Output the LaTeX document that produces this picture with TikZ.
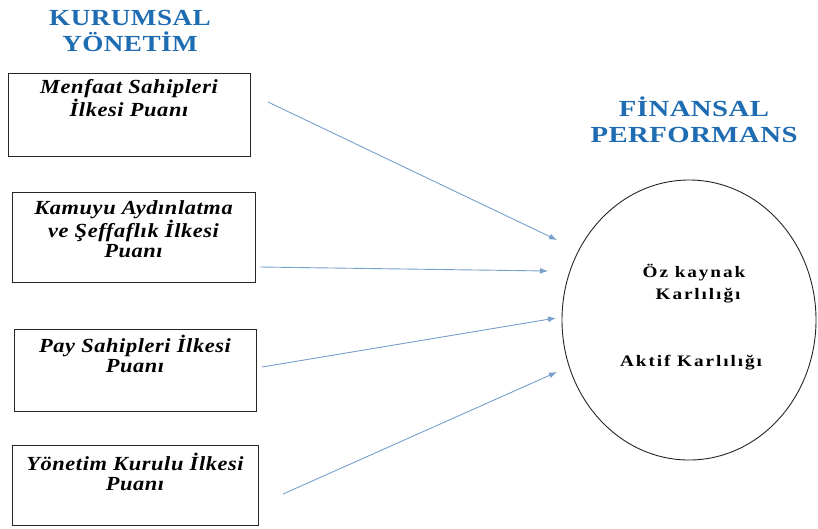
\documentclass[tikz,border=0pt]{standalone}
\usepackage{fontspec}
\setmainfont{Liberation Serif}
\usetikzlibrary{arrows.meta,shapes.geometric}
\definecolor{hdrblue}{RGB}{30,108,178}
\definecolor{arrblue}{RGB}{120,160,205}
\begin{document}
\begin{tikzpicture}[x=1pt,y=-1pt,
  hdr/.style={font=\fontsize{23}{26}\selectfont\bfseries\addfontfeature{FakeStretch=1.18,LetterSpace=2}, text=hdrblue, align=center, inner sep=0pt},
  boxframe/.style={draw=black!85, line width=0.9pt, rectangle, inner sep=0pt},
  boxtext/.style={font=\fontsize{20}{20}\selectfont\bfseries\itshape\addfontfeature{FakeStretch=1.12,LetterSpace=3}, align=center, inner sep=0pt},
  circtext/.style={font=\fontsize{16}{22}\selectfont\bfseries\addfontfeature{FakeStretch=1.2,LetterSpace=12}, align=center, inner sep=0pt},
  arr/.style={draw=arrblue, line width=0.9pt, -{Latex[length=8pt,width=6pt]}}]
\useasboundingbox (0,0) rectangle (818,528);
\fill[white] (0,0) rectangle (818,528);

% headers
\node[hdr] (h1) at (130,31) {KURUMSAL\\YÖNETİM};
\node[hdr, font=\fontsize{23}{26}\selectfont\bfseries\addfontfeature{FakeStretch=1.25,LetterSpace=2}] (h2) at (694,120) {FİNANSAL\\PERFORMANS};

% boxes
\node[boxframe, minimum width=242pt, minimum height=83pt] (b1) at (129,114.5) {};
\node[boxframe, minimum width=243pt, minimum height=90pt] (b2) at (133.5,237) {};
\node[boxframe, minimum width=242pt, minimum height=82pt] (b3) at (135,370) {};
\node[boxframe, minimum width=246pt, minimum height=80pt] (b4) at (135,485) {};

\node[boxtext, font=\fontsize{20}{23}\selectfont\bfseries\itshape\addfontfeature{FakeStretch=1.12,LetterSpace=3}] (t1) at (129,98.5) {Menfaat Sahipleri\\İlkesi Puanı};
\node[boxtext] (t2) at (133.5,229) {Kamuyu Aydınlatma\\ve Şeffaflık İlkesi\\Puanı};
\node[boxtext] (t3) at (135,354) {Pay Sahipleri İlkesi\\Puanı};
\node[boxtext] (t4) at (135,471.5) {Yönetim Kurulu İlkesi\\Puanı};

% circle
\node[ellipse, draw=black!85, line width=0.9pt, minimum width=254pt, minimum height=280pt, inner sep=0pt] (c) at (689,320) {};
\node[circtext] (c1) at (694,284) {Öz kaynak\\\hspace*{8pt}Karlılığı};
\node[circtext] (c2) at (691,363) {Aktif Karlılığı};

% arrow ends
\coordinate (s1) at (268,102); \coordinate (e1) at (557,240);
\coordinate (s2) at (260,267); \coordinate (e2) at (548,271);
\coordinate (s3) at (262,367); \coordinate (e3) at (556,318);
\coordinate (s4) at (283,494); \coordinate (e4) at (557,372);
\draw[arr] (s1) -- (e1);
\draw[arr] (s2) -- (e2);
\draw[arr] (s3) -- (e3);
\draw[arr] (s4) -- (e4);
\end{tikzpicture}
\end{document}
